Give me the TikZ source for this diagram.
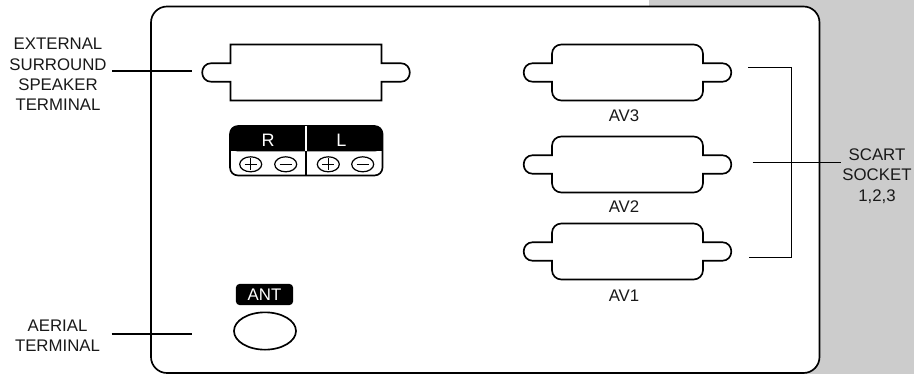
\documentclass[tikz,border=0pt]{standalone}
\usepackage{fontspec}
\setmainfont{Liberation Sans}
\usetikzlibrary{shapes.geometric}
\tikzset{
    wire/.style={black,line width=0.9pt},
    outline/.style={black,line width=1.25pt},
    caption/.style={align=center,font=\fontsize{12.6}{15.2}\selectfont,inner sep=0pt,text=black!90},
    pics/socket/.style={code={
        \draw[outline,fill=white] (-75.5,-9.3) [rounded corners=#1] -- (-75.5,-28) -- (75.5,-28) [sharp corners] -- (75.5,-9.3)
            -- (94.5,-9.3) .. controls (106.9,-9.3) and (106.9,9.3) .. (94.5,9.3) -- (75.5,9.3)
            [rounded corners=#1] -- (75.5,28) -- (-75.5,28) [sharp corners] -- (-75.5,9.3)
            -- (-94.5,9.3) .. controls (-106.9,9.3) and (-106.9,-9.3) .. (-94.5,-9.3) -- cycle;
    }}
}

\begin{document}
\begin{tikzpicture}[x=0.75pt,y=-0.75pt]
    \useasboundingbox (0,0) rectangle (914,374);
    \fill[black!20] (649,0) rectangle (914,374);
    \draw[outline,fill=white,rounded corners=12pt] (151,6.5) rectangle (819.5,373);

    % sockets
    \pic at (306,72.5) {socket=0pt};
    \pic at (627.5,72.5) {socket=7pt};
    \pic at (627.5,164.5) {socket=7pt};
    \pic at (627.5,251.5) {socket=7pt};
    \node[caption] (av3) at (624,115.5) {AV3};
    \node[caption] (av2) at (624,207) {AV2};
    \node[caption] (av1) at (624,295.5) {AV1};

    % speaker terminal
    \draw[outline,rounded corners=6pt] (230,126) rectangle (382.5,175.5);
    \fill[black,rounded corners=6pt] (230,126) -- (382.5,126) -- (382.5,151.5) -- (230,151.5) -- cycle;
    \fill[black] (230,140) rectangle (382.5,151.5);
    \draw[wire] (306,151.5) -- (306,175.5);
    \draw[white,line width=0.8pt] (306,126) -- (306,151.5);
    \node[font=\fontsize{13.5}{14}\selectfont,text=white,inner sep=0pt] (rlabel) at (268,140) {R};
    \node[font=\fontsize{13.5}{14}\selectfont,text=white,inner sep=0pt] (llabel) at (341.5,140) {L};
    \foreach \x in {250.7,285.7,328.3,362.7} {
        \draw[wire] (\x,164.3) ellipse (11 and 7.5);
        \draw[wire] (\x-6,164.3) -- (\x+6,164.3);
    }
    \foreach \x in {250.7,328.3}
        \draw[wire] (\x,158.3) -- (\x,170.3);

    % aerial
    \node[fill=black,rounded corners=3pt,minimum width=43pt,minimum height=16pt,inner sep=0pt,text=white,font=\fontsize{12.6}{14}\selectfont] (ant) at (264.5,294.5) {ANT};
    \node[draw,outline,ellipse,minimum width=46.5pt,minimum height=28pt,inner sep=0pt] (antsocket) at (265,331) {};

    % labels
    \node[caption] (surround) at (58,74.5) {EXTERNAL\\SURROUND\\SPEAKER\\TERMINAL};
    \node[caption] (aerial) at (57.5,336) {AERIAL\\TERMINAL};
    \node[caption] (scart) at (877,176) {SCART\\SOCKET\\1,2,3};

    % connectors
    \coordinate (surroundA) at (112,71);
    \coordinate (surroundB) at (191.7,71);
    \coordinate (aerialA) at (111.7,334);
    \coordinate (aerialB) at (191.7,334);
    \coordinate (scartA) at (748.3,67.5);
    \coordinate (scartB) at (752.7,162.5);
    \coordinate (scartC) at (749.3,257.5);
    \coordinate (scartD) at (791.5,67.5);
    \coordinate (scartE) at (840.7,162.5);
    \draw[wire] (surroundA) -- (surroundB);
    \draw[wire] (aerialA) -- (aerialB);
    \draw[wire] (scartA) -- (scartD) |- (scartC);
    \draw[wire] (scartB) -- (scartE);
\end{tikzpicture}
\end{document}
